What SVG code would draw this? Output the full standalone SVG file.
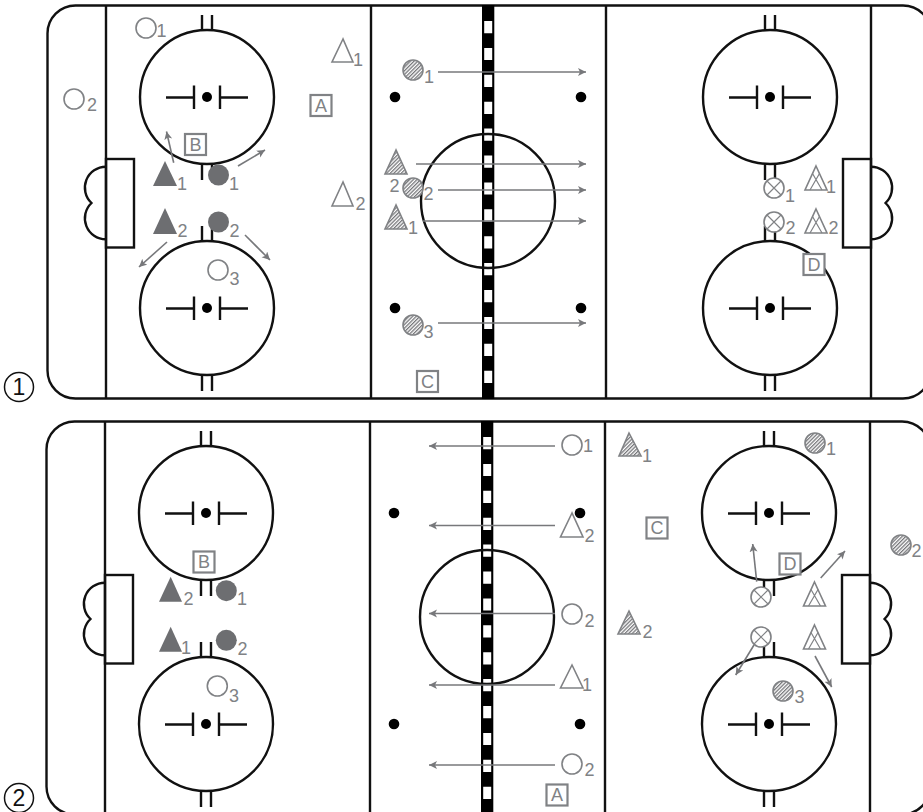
<svg xmlns="http://www.w3.org/2000/svg" width="923" height="812" viewBox="0 0 923 812">
<style>
.k{fill:none;stroke:#111;stroke-width:2.400}
.kd{fill:#000}
.o{fill:#fff;stroke:#808285;stroke-width:1.600}
.h{fill:url(#hatch);stroke:#808285;stroke-width:1.600}
.f{fill:#6d6e71}
.a{fill:none;stroke:#77787b;stroke-width:1.600;marker-end:url(#ah)}
.n{font-family:"Liberation Sans",Arial,sans-serif;font-size:18px;fill:#808285}
.b{fill:#fff;stroke:#808285;stroke-width:2.200}
.bt{font-family:"Liberation Sans",Arial,sans-serif;font-size:18px;fill:#808285;text-anchor:middle}
.m{font-family:"Liberation Sans",Arial,sans-serif;font-size:23px;fill:#111;text-anchor:middle}
.x{fill:none;stroke:#808285;stroke-width:1.200}
</style>
<defs>
<pattern id="hatch" width="2.600" height="2.600" patternUnits="userSpaceOnUse" patternTransform="rotate(-45)"><rect width="2.600" height="2.600" fill="#fff"/><rect width="2.600" height="1.300" fill="#77787b"/></pattern>
<marker id="ah" markerUnits="userSpaceOnUse" markerWidth="10" markerHeight="10" refX="8" refY="4" orient="auto"><path d="M0 0L8 4L0 8L2 4Z" fill="#77787b"/></marker>
<g id="face">
<circle class="k" r="67"/>
<circle class="kd" r="5"/>
<path class="k" d="M-41 .5H-13M-13-11.500V12M13-11.500V12M13 .5H41"/>
</g>
<g id="rink">
<path class="k" d="M931 33.500A28 28 0 0 0 903 5.500H75.500A28 28 0 0 0 47.500 33.500V370.500A28 28 0 0 0 75.500 398.500H903A28 28 0 0 0 931 370.500"/>
<path class="k" d="M106 5.500V398.500M371 5.500V398.500M606 5.500V398.500M871 5.500V398.500"/>
<path class="k" d="M202 15V30M212 15V30M202 164V180M212 164V180M202 226V241M212 226V241M202 375V391M212 375V391"/>
<path class="k" d="M765 15V30M775 15V30M765 164V180M775 164V180M765 226V241M775 226V241M765 375V391M775 375V391"/>
<use href="#face" x="207" y="97"/><use href="#face" x="207" y="308"/>
<use href="#face" x="770" y="97"/><use href="#face" x="770" y="308"/>
<rect class="k" x="106" y="159" width="28" height="88.500"/>
<rect class="k" x="843" y="159" width="28" height="88.500"/>
<path class="k" d="M106 166.700A21 21 0 0 0 91.500 203A21 21 0 0 0 106 239.300"/>
<path class="k" d="M871 166.700A21 21 0 0 1 885.500 203A21 21 0 0 1 871 239.300"/>
<rect x="482" y="5" width="12.300" height="394" fill="#000"/>
<path d="M488.200 21V384" stroke="#fff" stroke-width="8" stroke-dasharray="12.200 14.700" fill="none"/>
<circle class="k" cx="488" cy="201" r="67"/>
<circle class="kd" cx="395" cy="97" r="5.300"/><circle class="kd" cx="581" cy="97" r="5.300"/>
<circle class="kd" cx="395" cy="308" r="5.300"/><circle class="kd" cx="581" cy="308" r="5.300"/>
</g>
<g id="xc"><circle class="o" r="10"/><path class="x" d="M-7-7L7 7M-7 7L7-7"/></g>
<g id="tr"><path class="o" d="M0 0L11 24H-11Z"/><path class="x" d="M-3.500 7.500L6 24M3.500 7.500L-6 24"/></g>
</defs>

<g id="rink-1"><use href="#rink"/></g>
<g id="rink-2"><use href="#rink" x="-1" y="416"/></g>

<g id="connectors">
<path class="a" d="M173.700 162.700L166.500 131.500"/>
<path class="a" d="M238 166L265 150"/>
<path class="a" d="M167 242L139 267"/>
<path class="a" d="M245 235L270 260"/>
<path class="a" d="M438 72H586"/>
<path class="a" d="M416 164H586"/>
<path class="a" d="M438 190H586"/>
<path class="a" d="M423 221H586"/>
<path class="a" d="M438 323H586"/>
<path class="a" d="M555 446H429"/>
<path class="a" d="M555 525.500H429"/>
<path class="a" d="M555 613.500H429"/>
<path class="a" d="M555 685H429"/>
<path class="a" d="M555 765H429"/>
<path class="a" d="M756.700 581.700L752.700 544"/>
<path class="a" d="M820.700 578L845 551"/>
<path class="a" d="M754 645L735.700 675"/>
<path class="a" d="M815 656L831.700 687"/>
</g>

<g id="mark-1"><circle cx="19" cy="387" r="14.500" fill="none" stroke="#111" stroke-width="1.500"/><text class="m" x="19" y="395">1</text></g>
<g id="mark-2"><circle cx="19" cy="798" r="14.500" fill="none" stroke="#111" stroke-width="1.500"/><text class="m" x="19" y="806">2</text></g>

<g id="r1-o1"><circle class="o" cx="146" cy="28" r="10"/><text class="n" x="156.500" y="37">1</text></g>
<g id="r1-o2"><circle class="o" cx="74" cy="99" r="10"/><text class="n" x="87" y="111">2</text></g>
<g id="r1-o3"><circle class="o" cx="218" cy="270" r="10"/><text class="n" x="229.500" y="285">3</text></g>
<g id="r1-t1"><path class="o" d="M343 39L332 62H353Z"/><text class="n" x="353" y="66">1</text></g>
<g id="r1-t2"><path class="o" d="M343 182L332 206H353Z"/><text class="n" x="355.500" y="210">2</text></g>
<g id="r1-A"><rect class="b" x="310.500" y="95" width="21" height="21"/><text class="bt" x="321" y="111.500">A</text></g>
<g id="r1-B"><rect class="b" x="185" y="134" width="21" height="21"/><text class="bt" x="195.500" y="150.500">B</text></g>
<g id="r1-ft1"><path class="f" d="M165 161L153 186H177Z"/><text class="n" x="177" y="190">1</text></g>
<g id="r1-ft2"><path class="f" d="M165 208L153 234H177Z"/><text class="n" x="177.500" y="237">2</text></g>
<g id="r1-fc1"><circle class="f" cx="218.500" cy="175" r="10.500"/><text class="n" x="229" y="190">1</text></g>
<g id="r1-fc2"><circle class="f" cx="218.500" cy="222" r="10.500"/><text class="n" x="229.500" y="237">2</text></g>
<g id="r1-hc1"><circle class="h" cx="413" cy="70" r="10"/><text class="n" x="424" y="83">1</text></g>
<g id="r1-ht2"><path class="h" d="M396 150L385 174H407Z"/><text class="n" x="389.500" y="192">2</text></g>
<g id="r1-hc2"><circle class="h" cx="413" cy="188" r="10"/><text class="n" x="423.500" y="200">2</text></g>
<g id="r1-ht1"><path class="h" d="M396 205L385 229H407Z"/><text class="n" x="408" y="234">1</text></g>
<g id="r1-hc3"><circle class="h" cx="413" cy="325" r="10"/><text class="n" x="423.500" y="338">3</text></g>
<g id="r1-C"><rect class="b" x="417" y="371" width="21" height="21"/><text class="bt" x="427.500" y="387.500">C</text></g>
<g id="r1-x1"><use href="#xc" x="774" y="188"/><text class="n" x="785" y="202">1</text></g>
<g id="r1-x2"><use href="#xc" x="774" y="222"/><text class="n" x="785.500" y="234">2</text></g>
<g id="r1-xt1"><use href="#tr" x="816" y="166"/><text class="n" x="826" y="193">1</text></g>
<g id="r1-xt2"><use href="#tr" x="816" y="209"/><text class="n" x="828.500" y="234">2</text></g>
<g id="r1-D"><rect class="b" x="803.500" y="254" width="21" height="21"/><text class="bt" x="814" y="270.500">D</text></g>

<g id="r2-B"><rect class="b" x="193.500" y="551.500" width="21" height="21"/><text class="bt" x="204" y="568">B</text></g>
<g id="r2-ft2"><path class="f" d="M170.700 576.700L159 601.700H182Z"/><text class="n" x="183.500" y="605">2</text></g>
<g id="r2-ft1"><path class="f" d="M170.700 626.700L159 651.700H182Z"/><text class="n" x="181" y="654">1</text></g>
<g id="r2-fc1"><circle class="f" cx="226.300" cy="590.700" r="10.500"/><text class="n" x="237" y="605">1</text></g>
<g id="r2-fc2"><circle class="f" cx="226.300" cy="640.300" r="10.500"/><text class="n" x="237.500" y="655">2</text></g>
<g id="r2-o3"><circle class="o" cx="217.300" cy="686" r="10"/><text class="n" x="229" y="702">3</text></g>
<g id="r2-o1"><circle class="o" cx="572" cy="445" r="10"/><text class="n" x="583" y="452">1</text></g>
<g id="r2-t2"><path class="o" d="M572 513L560.500 537H583Z"/><text class="n" x="584.500" y="542">2</text></g>
<g id="r2-o2a"><circle class="o" cx="572" cy="614" r="10"/><text class="n" x="584.500" y="627">2</text></g>
<g id="r2-t1"><path class="o" d="M572 665L560.500 688H583Z"/><text class="n" x="582" y="691">1</text></g>
<g id="r2-o2b"><circle class="o" cx="572" cy="764" r="10"/><text class="n" x="584.500" y="776">2</text></g>
<g id="r2-A"><rect class="b" x="546.500" y="784.500" width="21" height="21"/><text class="bt" x="557" y="801">A</text></g>
<g id="r2-C"><rect class="b" x="646.500" y="517.500" width="21" height="21"/><text class="bt" x="657" y="534">C</text></g>
<g id="r2-ht1"><path class="h" d="M629 433L619 456H641Z"/><text class="n" x="642" y="462">1</text></g>
<g id="r2-ht2"><path class="h" d="M629 611L618 634H640Z"/><text class="n" x="642.500" y="638">2</text></g>
<g id="r2-hc1"><circle class="h" cx="815" cy="443" r="10"/><text class="n" x="826" y="455">1</text></g>
<g id="r2-hc2"><circle class="h" cx="901" cy="545" r="10"/><text class="n" x="911.500" y="557">2</text></g>
<g id="r2-hc3"><circle class="h" cx="783" cy="691" r="10"/><text class="n" x="794.500" y="703">3</text></g>
<g id="r2-x1"><use href="#xc" x="761" y="597"/></g>
<g id="r2-x2"><use href="#xc" x="761" y="637"/></g>
<g id="r2-D"><rect class="b" x="779.500" y="553.500" width="21" height="21"/><text class="bt" x="790" y="570">D</text></g>
<g id="r2-xt1"><use href="#tr" x="814.500" y="582"/></g>
<g id="r2-xt2"><use href="#tr" x="814.500" y="625"/></g>
</svg>
